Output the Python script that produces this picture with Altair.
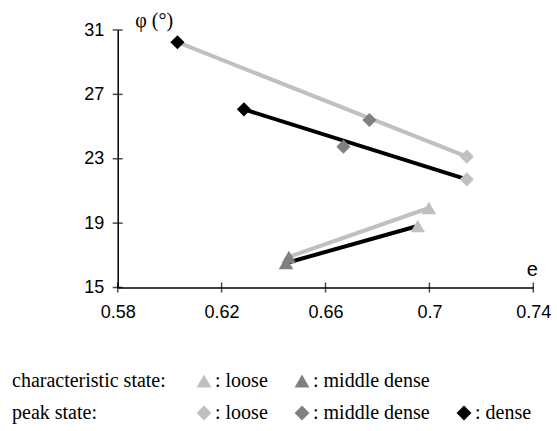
import altair as alt
import pandas as pd

# ---- data ----
# peak state (diamonds)
peak_loose_e = [0.7144, 0.7144]
peak_loose_phi = [23.13, 21.72]
peak_mid_e = [0.6769, 0.6669]
peak_mid_phi = [25.41, 23.75]
peak_dense_e = [0.6030, 0.6286]
peak_dense_phi = [30.24, 26.07]
# characteristic state (triangles)
char_loose_e = [0.6998, 0.6955]
char_loose_phi = [19.94, 18.82]
char_mid_e = [0.6459, 0.6448]
char_mid_phi = [16.90, 16.52]

x_ticks = [0.58, 0.62, 0.66, 0.70, 0.74]
y_ticks = [15, 19, 23, 27, 31]
char_levels = ["loose", "middle dense"]
peak_levels = ["loose", "middle dense", "dense"]
char_colors = ["#c0c0c0", "#808080"]
peak_colors = ["#c0c0c0", "#808080", "#000000"]
line_colors = ["#c0c0c0", "#000000"]

# ---- tables ----
peak_rows = []
for lvl, es, ps in [("loose", peak_loose_e, peak_loose_phi),
                    ("middle dense", peak_mid_e, peak_mid_phi),
                    ("dense", peak_dense_e, peak_dense_phi)]:
    for e, p in zip(es, ps):
        peak_rows.append({"e": e, "phi": p, "level": lvl})
peak_df = pd.DataFrame(peak_rows)

char_rows = []
for lvl, es, ps in [("loose", char_loose_e, char_loose_phi),
                    ("middle dense", char_mid_e, char_mid_phi)]:
    for e, p in zip(es, ps):
        char_rows.append({"e": e, "phi": p, "level": lvl})
char_df = pd.DataFrame(char_rows)

line_rows = []
for i in range(2):
    line_rows += [
        {"e": peak_dense_e[i], "phi": peak_dense_phi[i], "seg": f"p{i}", "test": i},
        {"e": peak_loose_e[i], "phi": peak_loose_phi[i], "seg": f"p{i}", "test": i},
        {"e": char_mid_e[i], "phi": char_mid_phi[i], "seg": f"c{i}", "test": i},
        {"e": char_loose_e[i], "phi": char_loose_phi[i], "seg": f"c{i}", "test": i},
    ]
line_df = pd.DataFrame(line_rows)

xscale = alt.Scale(domain=[0.58, 0.74], nice=False, zero=False)
yscale = alt.Scale(domain=[15, 31], nice=False, zero=False)

x_axis = alt.Axis(values=x_ticks, format=".2~f", ticks=False, grid=False, labelFlush=False,
                  domainColor="black", domainWidth=1.5, labelPadding=16,
                  labelFont="Liberation Sans", labelFontSize=18, labelColor="black",
                  title="e", titleAngle=0, titleX=414, titleY=-12,
                  titleAlign="center", titleBaseline="alphabetic",
                  titleFont="Liberation Sans", titleFontSize=20,
                  titleFontWeight="normal", titleColor="black")
y_axis = alt.Axis(values=y_ticks, ticks=False, grid=False, labelFlush=False,
                  domainColor="black", domainWidth=1.5, labelPadding=14,
                  labelFont="Liberation Sans", labelFontSize=18, labelColor="black",
                  title="φ (°)", titleAngle=0, titleX=17, titleY=-4,
                  titleAlign="left", titleBaseline="alphabetic",
                  titleFont="Liberation Serif", titleFontSize=20,
                  titleFontWeight="normal", titleColor="black")

X = alt.X("e:Q", scale=xscale, axis=x_axis)
Y = alt.Y("phi:Q", scale=yscale, axis=y_axis)
Xn = alt.X("e:Q", scale=xscale)
Yn = alt.Y("phi:Q", scale=yscale)

xt = alt.Chart(pd.DataFrame({"e": x_ticks})).mark_tick(
    orient="vertical", size=10, thickness=1.5, color="black"
).encode(x=X, y=alt.datum(15))

yt = alt.Chart(pd.DataFrame({"phi": y_ticks})).mark_tick(
    orient="horizontal", size=10, thickness=1.5, color="black"
).encode(y=Y, x=alt.datum(0.58))

lines = alt.Chart(line_df).mark_line(strokeWidth=4).encode(
    x=Xn, y=Yn, detail="seg:N",
    color=alt.Color("test:N", scale=alt.Scale(domain=[0, 1], range=line_colors), legend=None),
)

leg_common = dict(orient="none", direction="horizontal", titleOrient="left",
                  titleFont="Liberation Serif", titleFontSize=20, titleFontWeight="normal",
                  titleColor="black", titleBaseline="middle",
                  labelFont="Liberation Serif", labelFontSize=20, labelColor="black",
                  labelExpr="': ' + datum.label", labelOffset=1,
                  symbolSize=220, symbolStrokeWidth=0, columnPadding=24)

tri = alt.Chart(char_df).mark_point(shape="triangle-up", filled=True, size=210, opacity=1).encode(
    x=Xn, y=Yn,
    color=alt.Color("level:N", scale=alt.Scale(domain=char_levels, range=char_colors),
                    legend=alt.Legend(title="characteristic state:", legendX=-105.7, legendY=341,
                                      symbolType="triangle-up", titlePadding=28, **leg_common)),
)

dia = alt.Chart(peak_df).mark_point(shape="diamond", filled=True, size=200, opacity=1).encode(
    x=Xn, y=Yn,
    color=alt.Color("level:N", scale=alt.Scale(domain=peak_levels, range=peak_colors),
                    legend=alt.Legend(title="peak state:", legendX=-105.7, legendY=373,
                                      symbolType="diamond", titlePadding=97, **leg_common)),
)

chart = alt.layer(xt, yt, lines, tri, dia).resolve_scale(color="independent").properties(
    width=415.6, height=257.5,
    autosize=alt.AutoSizeParams(type="none"),
    padding={"left": 117.7, "top": 30, "right": 23.7, "bottom": 143.5},
).configure_view(stroke=None)

chart.save("out.html", embed_options={"renderer": "svg", "actions": False})
